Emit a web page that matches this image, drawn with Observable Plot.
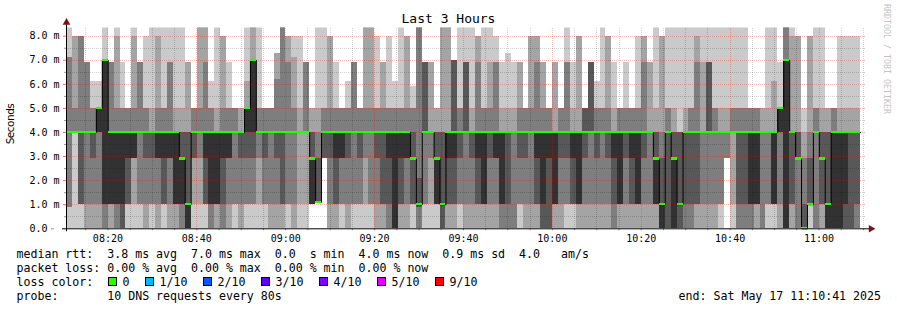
<!DOCTYPE html>
<html><head><meta charset="utf-8">
<script src="https://cdn.jsdelivr.net/npm/d3@7"></script>
<script src="https://cdn.jsdelivr.net/npm/@observablehq/plot@0.6"></script>
<style>
body{margin:0;background:#fff;}
#wrap{position:relative;width:897px;height:310px;overflow:hidden;background:#fff;}
.t{position:absolute;white-space:pre;font-family:"DejaVu Sans Mono",monospace;font-size:11.6px;line-height:14px;color:#000;}
.box{position:absolute;width:7px;height:7px;border:1px solid #000;box-sizing:content-box;}
</style></head><body><div id="wrap"></div>
<script>
// ---- data ----
const rangeStart = new Date(2025,4,17,8,10,41);
const rangeEnd = new Date(2025,4,17,11,10,41);
const firstStep = new Date(2025,4,17,8,10,44);
const stepSeconds = 80;
// 10 sorted DNS response times (ms) per 80 s step; index 5 is the median (9 = above the chart top)
const pings = [
[0,0.9,0.9,4,4,4,4,7.1,7.1,9],[0,4,4,4,4,4,4,5,8,8],[0,1,1,1,4,4,4,8,8,8],[0,0,1,4,4,4,4,6.9,6.9,6.9],
[0,0,1,2.9,4,4,4,5,5,6.1],[0,0,1,4,4,5,5,5,5,6.1],[0,0,0,1,1,7,7,7,7,9],[0,0,1,1,1,4,4,6.9,6.9,6.9],
[0,0,0,1,1,4,4,5,8,9],[0,0,0,0,1,4,4,5,5,6.9],[0,1,1,1,2.9,4,4,5,5,5],[0,1,2.9,2.9,2.9,4,4,5,8,9],
[0,1,1,4,4,4,4,6.9,6.9,6.9],[0,0,1,2.9,4,4,4,5,5,8],[0,1,1,2.9,4,4,4,4,5,9],[0,0,1,2.9,2.9,4,4,5,8,9],
[0,1,1,1,2.9,4,4,5,5,9],[0,0,1,2.9,2.9,4,4,6.9,6.9,9],[0,0,1,1,1,4,4,4,5,9],[0,0,0,1,1,2.9,4,4,5,9],
[0,0,0,0,0,1,4,4,6.9,6.9],[0,1,2.9,2.9,4,4,4,5,5,5],[0,1,2.9,4,4,4,4,5,9,9],[0,1,1,1,2.9,4,4,6.9,9,9],
[0,0,0,1,1,4,4,5,5,6.1],[0,0,1,1,1,4,4,4,5,9],[0,0,0,1,2.9,4,4,5,8,8],[0,0,1,2.9,2.9,4,4,5,5,6.9],
[0,1,1,4,4,4,4,5,5,5],[0,0,1,2.9,4,4,4,4,5,5],[0,1,1,2.9,4,5,5,5,6.1,9],[0,1,1,2.9,4,7,7,7,9,9],
[0,1,2.9,4,4,4,4,5,5,9],[0,1,1,2.9,4,4,4,5,5,5],[0,0,1,4,4,4,4,5,5,5],[0,0,1,2.9,4,4,4,6.2,7.3,7.3],
[0,0,1,1,4,4,4,9,9,9],[0,1,1,4,4,4,4,6.9,8,8],[0,0,1,4,4,4,4,5,7.1,8],[0,1,4,4,4,4,4,4,5,8],
[0,1,4,4,4,4,4,6.9,6.9,6.9],[1,1,1,1,1,2.9,4,4,5,5],[1.1,1.1,1.1,1.1,1.1,1.1,2.9,4,5,9],[2.9,2.9,2.9,2.9,4,4,4,5,5,9],
[0,0,1,2.9,4,4,4,5,8,8],[0,0,1,1,2.9,4,4,5,5,6.9],[0,1,1,2.9,2.9,4,4,5,5,5],[0,0,1,2.9,4,4,4,5,5,6.1],
[0,1,1,4,4,4,4,6.9,6.9,6.9],[0,1,1,2.9,4,4,4,5,5,5],[0,1,2.9,4,4,4,4,5,9,9],[0,1,1,4,4,4,4,5,9,9],
[0,0,1,2.9,4,4,4,5,5,8],[0,0,1,1,4,4,4,5,6.9,6.9],[0,0,0,1,2.9,4,4,5,5,8],[0,0,0,0,0,4,4,5,5,6.1],
[0,0,1,1,2.9,4,4,5,5,9],[0,0,1,2.9,2.9,4,4,5,8,8],[0,1,1,1,2.9,2.9,4,5,5,5.9],[0,0,0,0.9,1,1,2.1,9,9,9],
[0,1,1,4,4,4,6.9,6.9,6.9,6.9],[0,1,2.9,4,4,4,4,4,6.9,6.9],[0,1,1,1,1,2.9,4,4,5,5],[0,0,0,0,1,1,4,4,9,9],
[0,0,1,1,2.9,4,4,4,9,9],[0,0,1,1,2.9,4,7,7,7,7],[0,1,1,2.9,4,4,4,5,5,9],[0,0,1,4,4,4,6.9,6.9,6.9,9],
[0,0,1,2.9,4,4,4,4,5,9],[0,0,1,1,2.9,4,4,6.9,8,8],[0,0,1,1,1,4,4,5,5,9],[0,0,1,2.9,4,4,4,5,6.9,9],
[0,0,1,2.9,2.9,4,4,6.9,6.9,8],[0,0,0,1,1,4,4,4,5,6.9],[0,0,0,1,4,4,4,4,5,7.3],[0,0,0,4,4,4,4,4,5,6.9],
[0,1,1,2.9,4,4,4,5,6.9,6.9],[0,0,1,2.9,4,4,4,5,5,5],[0,0,1,4,4,4,4,5,8,8],[0,0,1,1,2.9,4,4,6.9,8,8],
[0,0,0,0,1,4,4,5,6.9,6.9],[0,0,0,0,2.9,4,4,5,5,5],[0,0,1,1,1,4,4,4,6.9,6.9],[0,0,1,2.9,4,4,4,5,5,5],
[0,1,1,2.9,4,4,4,6.9,6.9,9],[0,1,1,1,2.9,4,4,4,5,6.9],[0,0,1,1,1,4,4,4,8,8],[0,0,1,2.9,4,4,5,5,5,5],
[0,0,1,4,4,4,6.9,6.9,6.9,6.9],[0,0,1,2.9,4,4,4,5,5,6.1],[0,0,1,4,4,4,4,5,5,9],[0,0,1,2.9,4,4,4,5,8,8],
[0,0,0,1,2.9,4,4,4,5,6.9],[0,0,1,1,1,4,4,5,5,5],[0,0,1,2.9,4,4,4,5,5,6.9],[0,0,1,1,2.9,4,4,5,5,5],
[0,0,1,1,1,4,4,5,5,8],[0,0,1,2.9,4,4,4,6.9,8,8],[0,0,1,4,4,4,4,4,6.9,6.9],[0,0,1,1,1,2.9,4,4,5,9],
[0,0,0,0,0,1,2.9,4,8,8],[0,0,0,0,4,4,4,5,5,9],[0,0,0,0,0,2.9,4,4,5,9],[0,0,0,0,1,1,4,4,4,9],
[0,0,0,1,4,4,4,4,5,9],[0,0,0,1,4,4,4,5,5,9],[0,0,1,1,4,4,4,6.9,8,9],[0,0,1,4,4,4,4,4,6.9,9],
[0,0,1,4,4,4,6.9,6.9,6.9,9],[0,0,1,4,4,4,4,5,5,9],[0,1,1,4,4,4,4,4,5,9],[2.9,2.9,2.9,4,4,4,4,4,5,9],
[0,1,4,4,4,4,4,5,5,9],[0,0,0,1,4,4,4,5,5,9],[0,0,0,1,4,4,4,5,5,9],[0,0,0,1,1,4,4,5,5,5],
[0,0,1,1,1,4,4,5,5,5],[0,0,0,4,4,4,4,4,5,5],[0,1,1,4,4,4,4,4,5,9],[0,1,1,1,1,4,4,4,6.1,9],
[0,0,1,4,4,5,5,5,5,6.9],[0,0,0,0,0,7,7,9,9,9],[0,0,1,1,4,4,4,4,8,9],[0,0,0,2.9,2.9,2.9,4,4,8,8],
[0,0,0,0,0,0,1,2.9,4,5],[0,1,1,1,1,1,2.9,4,8,8],[0,0,0,4,4,4,4,5,5,9],[0,0,1,1,2.9,2.9,4,4,5,9],
[0,0,0,0,0,1,4,4,5,5],[0,0,0,0,0,4,4,5,5,5],[0,0,0,0,0,4,4,4,5,8],[0,0,0,0,1,4,4,4,5,8],
[0,0,0,0,4,4,4,4,5,8],[0,0,0,1,4,4,4,4,5,8]
];
const yMajor = [1,2,3,4,5,6,7,8];
const yMinor = [0.5,1.5,2.5,3.5,4.5,5.5,6.5,7.5];
const xMajorLabels = ["08:20","08:40","09:00","09:20","09:40","10:00","10:20","10:40","11:00"];
const smokeShades = ["#cacaca","#a4a4a4","#7e7e7e","#585858","#323232"];
const medianColor = "#26ff00";
const legendRows = [
  "median rtt:  3.8 ms avg  7.0 ms max  0.0  s min  4.0 ms now  0.9 ms sd  4.0   am/s",
  "packet loss: 0.00 % avg  0.00 % max  0.00 % min  0.00 % now",
  "loss color:",
  "probe:       10 DNS requests every 80s"
];
const lossLabels = ["0","1/10","2/10","3/10","4/10","5/10","9/10"];
const lossColors = ["#26ff00","#00b8ff","#0059ff","#5e00ff","#7e00ff","#dd00ff","#ff0000"];
const endLabel = "end: Sat May 17 11:10:41 2025";

// ---- derived tables ----
const parseHM = s => { const [h,m] = s.split(":").map(Number); return new Date(2025,4,17,h,m,0); };
const xMajor = xMajorLabels.map(parseHM);
const xMinor = [];
for (let t = new Date(2025,4,17,8,15); t < rangeEnd; t = new Date(+t + 5*60000))
  if (t.getMinutes() % 20 !== 0) xMinor.push(t);
const stepT = k => new Date(+firstStep + k*stepSeconds*1000);
const smoke = [];
pings.forEach((p,k) => { for (let b=0;b<5;b++) smoke.push({x1:stepT(k), x2:stepT(k+1), y1:p[b], y2:p[9-b], b}); });
const med = pings.map((p,k) => ({x1:stepT(k), x2:stepT(k+1), m:p[5]}));
const medLine = med.map(d => ({t:d.x1, m:d.m})).concat([{t:stepT(pings.length), m:pings[pings.length-1][5]}]);
const px = s => s*1000*180*60/800;
const sec = n => new Date(+rangeStart + n);

const yTop = 8.34;
const chart = Plot.plot({
  width: 897, height: 310,
  marginLeft: 66, marginRight: 31, marginTop: 27.5, marginBottom: 81.7,
  x: {type:"time", domain:[rangeStart, rangeEnd], axis:null},
  y: {domain:[0, yTop], axis:null},
  style: {background:"#fff", overflow:"visible"},
  marks: [
    Plot.rect(smoke, {x1:"x1", x2:"x2", y1:"y1", y2:"y2", fill:d=>smokeShades[d.b], clip:true, shapeRendering:"crispEdges"}),
    Plot.ruleY(yMinor, {stroke:"#000", strokeOpacity:0.18, strokeDasharray:"1,1", shapeRendering:"crispEdges"}),
    Plot.ruleX(xMinor, {stroke:"#000", strokeOpacity:0.18, strokeDasharray:"1,1", shapeRendering:"crispEdges"}),
    Plot.ruleY(yMajor, {stroke:"#ff0000", strokeOpacity:0.26, strokeDasharray:"1,1", shapeRendering:"crispEdges"}),
    Plot.ruleX(xMajor, {stroke:"#ff0000", strokeOpacity:0.26, strokeDasharray:"1,1", shapeRendering:"crispEdges"}),
    Plot.line(medLine, {x:"t", y:"m", curve:"step-after", stroke:"#000", strokeWidth:1}),
    Plot.rect(med, {x1:"x1", x2:"x2", y1:d=>d.m-0.045, y2:d=>d.m+0.045, fill:medianColor, shapeRendering:"crispEdges"}),
    // tick marks and labels
    Plot.axisY(yMinor, {tickSize:2, tickFormat:()=>"", stroke:"#999"}),
    Plot.axisY(yMajor, {tickSize:3, tickPadding:4, stroke:"#e07070", fill:"#000", tickFormat:d=>d.toFixed(1)+" m", fontSize:10, fontFamily:"DejaVu Sans Mono"}),
    Plot.axisY([0], {tickSize:3, tickPadding:4, stroke:"#e07070", fill:"#000", tickFormat:d=>d.toFixed(1), dx:-12, fontSize:10, fontFamily:"DejaVu Sans Mono"}),
    Plot.axisX(xMinor, {tickSize:2, tickFormat:()=>"", stroke:"#999"}),
    Plot.axisX(xMajor, {tickSize:2, tickPadding:4, stroke:"#e07070", fill:"#000", tickFormat:d3.timeFormat("%H:%M"), fontSize:10, fontFamily:"DejaVu Sans Mono"}),
    // axis lines and arrows
    Plot.ruleY([0], {x1:sec(-px(4)), x2:sec(px(805)), stroke:"#000", strokeWidth:1}),
    Plot.ruleX([rangeStart], {y1:-0.12, y2:8.55, stroke:"#000", strokeWidth:1}),
    Plot.dot([0], {x:sec(px(804.5)), y:0, symbol:"triangle", rotate:90, r:2.8, fill:"#7f1010", stroke:null}),
    Plot.dot([0], {x:rangeStart, y:8.57, symbol:"triangle", r:2.8, fill:"#7f1010", stroke:null})
  ]
});
const wrap = document.getElementById("wrap");
wrap.appendChild(chart);

function addText(txt, css, cls="t") {
  const d = document.createElement("div"); d.className = cls; d.textContent = txt;
  Object.assign(d.style, css); wrap.appendChild(d); return d;
}
addText("Last 3 Hours", {left:"0", width:"897px", textAlign:"center", top:"11px", fontSize:"13px", lineHeight:"16px"});
addText("Seconds", {left:"-15px", top:"117px", width:"50px", textAlign:"center", fontFamily:"'DejaVu Sans',sans-serif", fontSize:"10.5px", letterSpacing:"-0.5px", transform:"rotate(-90deg)"});
addText("RRDTOOL / TOBI OETIKER", {left:"882px", top:"4px", writingMode:"vertical-rl", fontSize:"8.3px", lineHeight:"10px", color:"#c4c4c4"});
legendRows.forEach((r,i) => addText(r, {left:"16.5px", top:(247+14*i)+"px"}));
addText(endLabel, {right:"16px", top:(247+42)+"px"});
const boxX = [107.5,144.5,202.5,260.5,318.5,376.5,434.5];
lossLabels.forEach((lab,i) => {
  const b = document.createElement("div"); b.className = "box";
  Object.assign(b.style, {left:(boxX[i])+"px", top:"277px", background:lossColors[i]});
  wrap.appendChild(b);
  addText(lab, {left:(boxX[i]+15)+"px", top:(247+28)+"px"});
});
</script></body></html>
